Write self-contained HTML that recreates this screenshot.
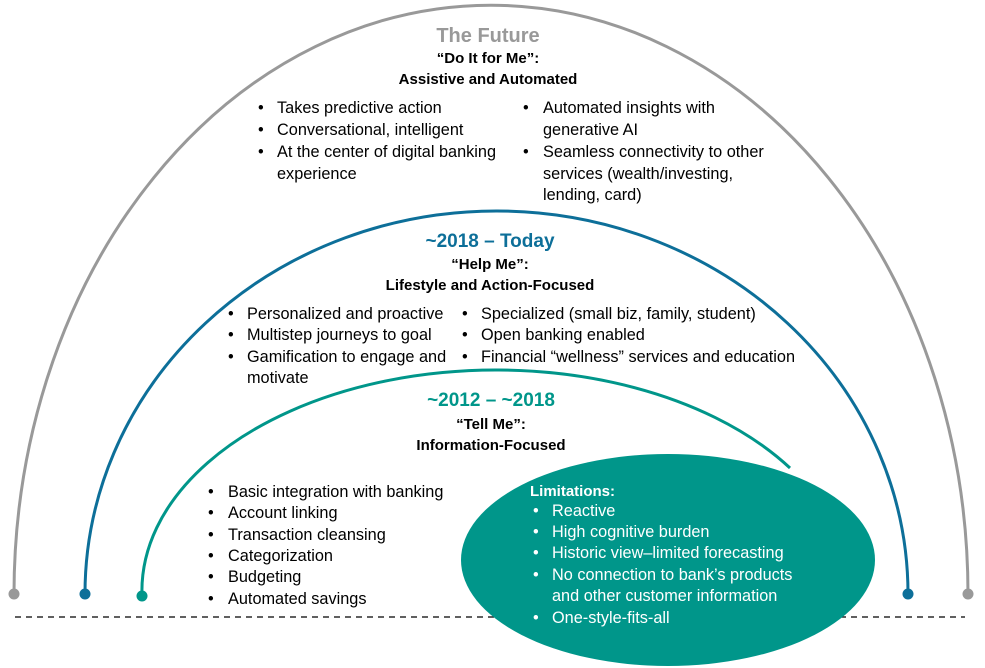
<!DOCTYPE html>
<html><head><meta charset="utf-8"><style>
html,body{margin:0;padding:0;background:#fff;}
svg{display:block;}
text{font-family:"Liberation Sans",sans-serif;font-size:16.3px;fill:#000;}
.b{font-weight:bold;font-size:15px;}
.w{fill:#fff;}
</style></head><body>
<svg width="985" height="668" viewBox="0 0 985 668" xmlns="http://www.w3.org/2000/svg">
<line x1="15" y1="617" x2="965" y2="617" stroke="#000" stroke-width="1.2" stroke-dasharray="6,5"/>
<path d="M14,594 A477,589 0 0 1 968,594" fill="none" stroke="#999" stroke-width="3"/>
<path d="M85,594 A411.5,383 0 0 1 908,594" fill="none" stroke="#0d6f99" stroke-width="3"/>
<path d="M142,596 A354,221 0 0 1 790,468" fill="none" stroke="#00968a" stroke-width="3"/>
<circle cx="14" cy="594" r="5.5" fill="#999"/>
<circle cx="968" cy="594" r="5.5" fill="#999"/>
<circle cx="85" cy="594" r="5.5" fill="#0d6f99"/>
<circle cx="908" cy="594" r="5.5" fill="#0d6f99"/>
<circle cx="142" cy="596" r="5.5" fill="#00968a"/>
<ellipse cx="668" cy="560" rx="207" ry="106" fill="#00968a"/>

<text x="488" y="42" text-anchor="middle" class="b" style="font-size:20px;fill:#999">The Future</text>
<text x="488" y="63" text-anchor="middle" class="b">“Do It for Me”:</text>
<text x="488" y="84" text-anchor="middle" class="b">Assistive and Automated</text>
<g>
<text x="258" y="113">•</text><text x="277" y="113">Takes predictive action</text>
<text x="258" y="135">•</text><text x="277" y="135">Conversational, intelligent</text>
<text x="258" y="157">•</text><text x="277" y="157">At the center of digital banking</text>
<text x="277" y="179">experience</text>
<text x="523" y="113">•</text><text x="543" y="113">Automated insights with</text>
<text x="543" y="135">generative AI</text>
<text x="523" y="157">•</text><text x="543" y="157">Seamless connectivity to other</text>
<text x="543" y="179">services (wealth/investing,</text>
<text x="543" y="200">lending, card)</text>
</g>

<text x="490" y="247" text-anchor="middle" class="b" style="font-size:19px;fill:#0d6f99">~2018 – Today</text>
<text x="490" y="269" text-anchor="middle" class="b">“Help Me”:</text>
<text x="490" y="290" text-anchor="middle" class="b">Lifestyle and Action-Focused</text>
<g>
<text x="228" y="319">•</text><text x="247" y="319">Personalized and proactive</text>
<text x="228" y="340">•</text><text x="247" y="340">Multistep journeys to goal</text>
<text x="228" y="362">•</text><text x="247" y="362">Gamification to engage and</text>
<text x="247" y="383">motivate</text>
<text x="462" y="319">•</text><text x="481" y="319">Specialized (small biz, family, student)</text>
<text x="462" y="340">•</text><text x="481" y="340">Open banking enabled</text>
<text x="462" y="362">•</text><text x="481" y="362">Financial “wellness” services and education</text>
</g>

<text x="491" y="406" text-anchor="middle" class="b" style="font-size:19px;fill:#00968a">~2012 – ~2018</text>
<text x="491" y="429" text-anchor="middle" class="b">“Tell Me”:</text>
<text x="491" y="450" text-anchor="middle" class="b">Information-Focused</text>
<g>
<text x="208" y="497">•</text><text x="228" y="497">Basic integration with banking</text>
<text x="208" y="518">•</text><text x="228" y="518">Account linking</text>
<text x="208" y="540">•</text><text x="228" y="540">Transaction cleansing</text>
<text x="208" y="561">•</text><text x="228" y="561">Categorization</text>
<text x="208" y="582">•</text><text x="228" y="582">Budgeting</text>
<text x="208" y="604">•</text><text x="228" y="604">Automated savings</text>
</g>

<text x="530" y="496" class="b w">Limitations:</text>
<g>
<text x="533" y="516" class="w">•</text><text x="552" y="516" class="w">Reactive</text>
<text x="533" y="537" class="w">•</text><text x="552" y="537" class="w">High cognitive burden</text>
<text x="533" y="558" class="w">•</text><text x="552" y="558" class="w">Historic view–limited forecasting</text>
<text x="533" y="580" class="w">•</text><text x="552" y="580" class="w">No connection to bank’s products</text>
<text x="552" y="601" class="w">and other customer information</text>
<text x="533" y="623" class="w">•</text><text x="552" y="623" class="w">One-style-fits-all</text>
</g>
</svg>
</body></html>
